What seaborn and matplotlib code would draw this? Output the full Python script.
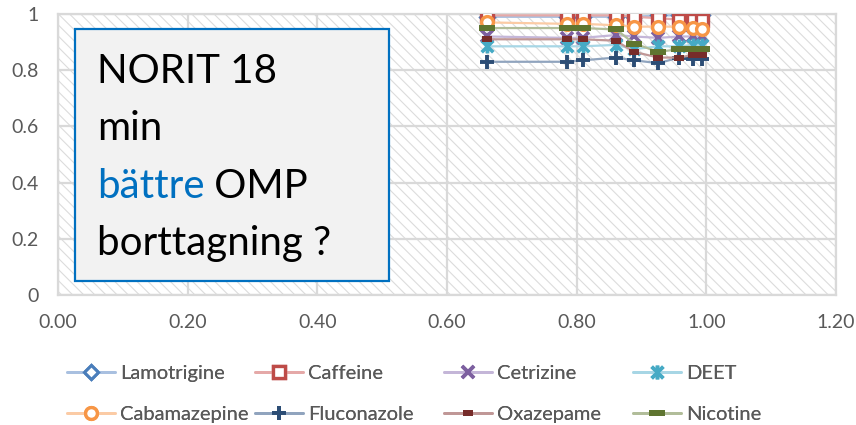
import numpy as np
import pandas as pd
import matplotlib
matplotlib.use('Agg')
import matplotlib.pyplot as plt
from matplotlib.patches import Rectangle
from matplotlib.path import Path
from matplotlib.lines import Line2D
from matplotlib.text import Annotation
import seaborn as sns

# %% dados
tempo = [0.662, 0.785, 0.809, 0.860, 0.889, 0.926, 0.958, 0.980, 0.994]

lamotrigine = [0.99, 0.99, 0.99, 0.99, 0.99, 0.995, 0.995, 0.995, 0.995]
caffeine = [0.995, 0.995, 0.995, 0.995, 0.99, 0.985, 0.98, 0.98, 0.98]
cetrizine = [0.92, 0.915, 0.915, 0.925, 0.92, 0.915, 0.92, 0.92, 0.92]
deet = [0.885, 0.885, 0.885, 0.89, 0.875, 0.885, 0.885, 0.89, 0.89]
cabamazepine = [0.97, 0.965, 0.965, 0.96, 0.955, 0.955, 0.955, 0.95, 0.945]
fluconazole = [0.83, 0.83, 0.835, 0.845, 0.835, 0.825, 0.845, 0.84, 0.84]
oxazepame = [0.91, 0.91, 0.91, 0.905, 0.865, 0.845, 0.845, 0.855, 0.855]
nicotine = [0.95, 0.95, 0.95, 0.945, 0.895, 0.865, 0.875, 0.875, 0.875]

nomes = ['Lamotrigine', 'Caffeine', 'Cetrizine', 'DEET',
         'Cabamazepine', 'Fluconazole', 'Oxazepame', 'Nicotine']
series = [lamotrigine, caffeine, cetrizine, deet,
          cabamazepine, fluconazole, oxazepame, nicotine]

xticks = [0.0, 0.2, 0.4, 0.6, 0.8, 1.0, 1.2]
xtick_labels = ['0.00', '0.20', '0.40', '0.60', '0.80', '1.00', '1.20']
yticks = [0.0, 0.2, 0.4, 0.6, 0.8, 1.0]
ytick_labels = ['0', '0.2', '0.4', '0.6', '0.8', '1']

df = pd.DataFrame({'tempo': tempo})
for nome, valores in zip(nomes, series):
    df[nome] = valores

# %% marcadores no estilo Excel
estrela = Path([(-1, -1), (1, 1), (-1, 1), (1, -1), (0, -1.2), (0, 1.2)],
               [Path.MOVETO, Path.LINETO, Path.MOVETO, Path.LINETO, Path.MOVETO, Path.LINETO])
traco = Path([(-1, -0.45), (1, -0.45), (1, 0.45), (-1, 0.45), (-1, -0.45)],
             [Path.MOVETO, Path.LINETO, Path.LINETO, Path.LINETO, Path.CLOSEPOLY])
ponto = Path([(-1, -0.7), (1, -0.7), (1, 0.7), (-1, 0.7), (-1, -0.7)],
             [Path.MOVETO, Path.LINETO, Path.LINETO, Path.LINETO, Path.CLOSEPOLY])

# (cor da linha, cor do marcador, marcador, tamanho, preenchimento, espessura)
estilos = {
    'Lamotrigine':  ('#a9c0e0', '#4a7ebb', 'D', 7, 'white', 2.2),
    'Caffeine':     ('#e5a9a8', '#be4b48', 's', 8.5, 'white', 2.4),
    'Cetrizine':    ('#c4b6d8', '#7d60a0', 'x', 8.5, 'none', 2.6),
    'DEET':         ('#a7d6e5', '#46aac5', estrela, 10, 'none', 2.6),
    'Cabamazepine': ('#fbcba5', '#f79646', 'o', 8.5, 'white', 2.4),
    'Fluconazole':  ('#90a4be', '#2c4d75', '+', 10, 'none', 2.8),
    'Oxazepame':    ('#c09796', '#772c2a', ponto, 6.5, '#772c2a', 0),
    'Nicotine':     ('#b1bd99', '#5f7530', traco, 11, '#5f7530', 0),
}

# %% figura
sns.set_style('white')
plt.rcParams['font.family'] = ['Lato', 'DejaVu Sans']
plt.rcParams['hatch.linewidth'] = 0.8

fig = plt.figure(figsize=(8.56, 4.25), dpi=100)
W, H = 856, 425
ax = fig.add_axes([58 / W, 1 - 295 / H, (836 - 58) / W, (295 - 14) / H])

# fundo hachurado
ax.add_patch(Rectangle((0, 0), 1, 1, transform=ax.transAxes, facecolor='white',
                       edgecolor='#dcdcdc', lw=0, hatch='\\\\\\', zorder=0))

handles = []
for nome in nomes:
    cor_linha, cor_marc, marc, ms, mfc, mew = estilos[nome]
    sns.lineplot(data=df, x='tempo', y=nome, ax=ax, color=cor_linha, lw=1.6,
                 marker=marc, markersize=ms, markerfacecolor=mfc,
                 markeredgecolor=cor_marc, markeredgewidth=mew, zorder=3)
    handles.append(Line2D([], [], color=cor_linha, lw=2, marker=marc, markersize=ms,
                          markerfacecolor=mfc, markeredgecolor=cor_marc,
                          markeredgewidth=mew))

ax.set_xlim(0, 1.2)
ax.set_ylim(0, 1)
ax.set_xlabel('')
ax.set_ylabel('')
ax.set_xticks(xticks, xtick_labels)
ax.set_yticks(yticks, ytick_labels)
ax.tick_params(length=0, labelsize=14, labelcolor='#595959')
ax.tick_params(axis='x', pad=14)
ax.tick_params(axis='y', pad=14)
ax.set_axisbelow(True)
ax.grid(True, color='#d9d9d9', lw=1.6)
for sp in ax.spines.values():
    sp.set_visible(True)
    sp.set_color('#d9d9d9')
    sp.set_linewidth(1.6)

# legenda em 4 colunas separadas (larguras fixas como no Excel)
colunas_x = [67, 255, 444, 633]
for i, cx in enumerate(colunas_x):
    leg = fig.legend([handles[i], handles[i + 4]], [nomes[i], nomes[i + 4]],
                     loc='center left', bbox_to_anchor=(cx / W, 1 - 394 / H),
                     frameon=False, fontsize=14.5, labelcolor='#595959',
                     handlelength=2.4, handletextpad=0.25, labelspacing=1.15,
                     borderpad=0, borderaxespad=0)
    fig.add_artist(leg)

# caixa de texto
fig.patches.append(Rectangle((75 / W, 1 - 281 / H), (389 - 75) / W, (281 - 29) / H,
                             transform=fig.transFigure, facecolor='#f2f2f2',
                             edgecolor='#0070c0', lw=1.6, zorder=5, figure=fig))
tx = 97 / W
kw = dict(fontsize=29, va='baseline', ha='left', zorder=6)
fig.text(tx, 1 - 83 / H, 'NORIT 18', color='black', **kw)
fig.text(tx, 1 - 140 / H, 'min', color='black', **kw)
t_azul = fig.text(tx, 1 - 198 / H, 'bättre', color='#0070c0', **kw)
fig.text(tx, 1 - 255 / H, 'borttagning ?', color='black', **kw)
omp = Annotation(' OMP', xy=(1, 0), xycoords=t_azul, va='bottom', ha='left',
                 fontsize=29, color='black', annotation_clip=False)
omp.set_zorder(6)
fig.add_artist(omp)

fig.savefig('out.png', dpi=100)
